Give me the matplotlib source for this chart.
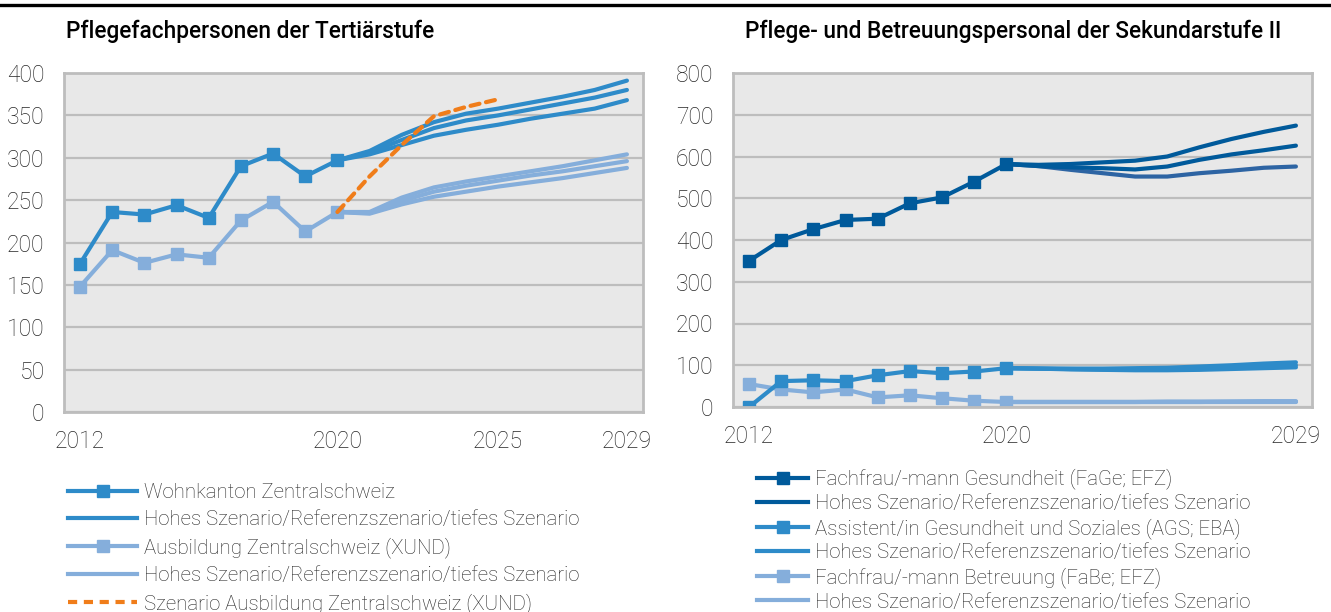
import matplotlib
matplotlib.use("Agg")
import matplotlib.pyplot as plt
from matplotlib.lines import Line2D
import numpy as np

plt.rcParams['font.family'] = ['Roboto', 'DejaVu Sans']

# ---- data ----
years = list(range(2012, 2030))
hist_years = list(range(2012, 2021))
proj_years = list(range(2020, 2030))
xund_years = list(range(2020, 2026))

# Tertiary level
wohnkanton = [175, 236, 233, 244, 229, 290, 305, 278, 297]
wohnkanton_high = [297, 308, 327, 342, 352, 358, 365, 372, 380, 391]
wohnkanton_ref = [297, 306, 321, 335, 344, 350, 357, 364, 371, 380]
wohnkanton_low = [297, 304, 315, 326, 333, 339, 346, 352, 358, 368]

ausbildung = [148, 191, 176, 186, 182, 226, 248, 213, 236]
ausbildung_high = [236, 236, 253, 265, 272, 278, 284, 290, 297, 304]
ausbildung_ref = [236, 235, 249, 260, 267, 273, 279, 284, 290, 296]
ausbildung_low = [236, 234, 245, 254, 260, 266, 271, 276, 282, 288]

xund_scenario = [236, 278, 315, 349, 360, 369]

# Secondary level II
fage = [350, 400, 426, 448, 451, 488, 502, 540, 582]
fage_high = [582, 580, 582, 586, 590, 600, 622, 642, 659, 674]
fage_ref = [582, 577, 574, 572, 569, 576, 592, 605, 615, 626]
fage_low = [582, 577, 568, 560, 552, 552, 560, 566, 573, 576]

ags = [0, 62, 64, 62, 76, 86, 81, 85, 93]
ags_high = [93, 92, 92, 92, 93, 94, 97, 100, 104, 107]
ags_ref = [93, 92, 91, 90, 90, 91, 93, 96, 98, 100]
ags_low = [93, 92, 90, 89, 88, 88, 89, 91, 93, 95]

fabe = [55, 42, 35, 42, 23, 28, 21, 15, 12]
fabe_high = [12, 12, 12, 12, 12, 13, 13, 13, 14, 14]
fabe_ref = [12, 12, 12, 12, 12, 12, 12, 13, 13, 13]
fabe_low = [12, 12, 12, 12, 12, 12, 12, 12, 12, 12]

left_ticks = ['2012', '2020', '2025', '2029']
right_ticks = ['2012', '2020', '2029']

left_title = "Pflegefachpersonen der Tertiärstufe"
right_title = "Pflege- und Betreuungspersonal der Sekundarstufe II"

left_labels = ["Wohnkanton Zentralschweiz",
               "Hohes Szenario/Referenzszenario/tiefes Szenario",
               "Ausbildung Zentralschweiz (XUND)",
               "Hohes Szenario/Referenzszenario/tiefes Szenario",
               "Szenario Ausbildung Zentralschweiz (XUND)"]
right_labels = ["Fachfrau/-mann Gesundheit (FaGe; EFZ)",
                "Hohes Szenario/Referenzszenario/tiefes Szenario",
                "Assistent/in Gesundheit und Soziales (AGS; EBA)",
                "Hohes Szenario/Referenzszenario/tiefes Szenario",
                "Fachfrau/-mann Betreuung (FaBe; EFZ)",
                "Hohes Szenario/Referenzszenario/tiefes Szenario"]

# ---- styling ----
C_MID = '#2E8BC9'
C_LIGHT = '#85AEDB'
C_ORANGE = '#F07D1A'
C_DARK = '#005A9B'
C_DARK_LOW = '#2D64A3'
BG = '#E8E8E8'
GRID = '#BDBDBD'
TXT = '#262626'

W, H = 1331, 612
fig = plt.figure(figsize=(W / 100, H / 100), dpi=100)


def frac_box(x0, y0, x1, y1):
    return [x0 / W, 1 - y1 / H, (x1 - x0) / W, (y1 - y0) / H]


def idx(yrs):
    return [years.index(y) for y in yrs]


def style_axes(ax, ymax, ystep, tick_years):
    ax.set_facecolor(BG)
    ax.set_xlim(-0.5, len(years) - 0.5)
    ax.set_ylim(0, ymax)
    ax.set_yticks(np.arange(0, ymax + 1, ystep))
    ax.set_xticks(idx([int(t) for t in tick_years]))
    ax.set_xticklabels(tick_years)
    ax.grid(axis='y', color=GRID, linewidth=1.6)
    ax.set_axisbelow(True)
    for s in ax.spines.values():
        s.set_color(GRID)
        s.set_linewidth(2.0)
    ax.tick_params(axis='both', length=0, labelsize=16.5, labelcolor=TXT)
    ax.tick_params(axis='y', pad=14)
    ax.tick_params(axis='x', pad=13)
    for lab in ax.get_xticklabels() + ax.get_yticklabels():
        lab.set_fontweight('light')


LW = 3.0
MS = 9
DASH = (0, (2.2, 1.6))

# ---- left panel ----
axL = fig.add_axes(frac_box(64, 73, 643, 412))
style_axes(axL, 400, 50, left_ticks)
for series in (ausbildung_low, ausbildung_ref, ausbildung_high):
    axL.plot(idx(proj_years), series, color=C_LIGHT, lw=LW, solid_capstyle='round')
axL.plot(idx(hist_years), ausbildung, color=C_LIGHT, lw=LW, marker='s', ms=MS)
for series in (wohnkanton_low, wohnkanton_ref, wohnkanton_high):
    axL.plot(idx(proj_years), series, color=C_MID, lw=LW, solid_capstyle='round')
axL.plot(idx(hist_years), wohnkanton, color=C_MID, lw=LW, marker='s', ms=MS)
axL.plot(idx(xund_years), xund_scenario, color=C_ORANGE, lw=LW,
         ls=DASH, dash_capstyle='round')

# ---- right panel ----
axR = fig.add_axes(frac_box(733, 73, 1312, 407))
style_axes(axR, 800, 100, right_ticks)
for series, col in ((fage_low, C_DARK_LOW), (fage_ref, C_DARK), (fage_high, C_DARK)):
    axR.plot(idx(proj_years), series, color=col, lw=LW, solid_capstyle='round')
axR.plot(idx(hist_years), fage, color=C_DARK, lw=LW, marker='s', ms=MS)
for series in (fabe_low, fabe_ref, fabe_high):
    axR.plot(idx(proj_years), series, color=C_LIGHT, lw=LW, solid_capstyle='round')
axR.plot(idx(hist_years), fabe, color=C_LIGHT, lw=LW, marker='s', ms=MS)
for series in (ags_low, ags_ref, ags_high):
    axR.plot(idx(proj_years), series, color=C_MID, lw=LW, solid_capstyle='round')
axR.plot(idx(hist_years), ags, color=C_MID, lw=LW, marker='s', ms=MS)

# ---- titles and top rule ----
fig.add_artist(Line2D([0, 1], [1 - 4.5 / H, 1 - 4.5 / H], color='black', lw=2.4))
fig.text(66 / W, 1 - 31 / H, left_title, fontsize=16.3, fontweight='medium',
         color='black', va='center', ha='left')
fig.text(745 / W, 1 - 31 / H, right_title, fontsize=16.3, fontweight='medium',
         color='black', va='center', ha='left')

# ---- legends ----
def handle(color, marker=None, ls='-'):
    return Line2D([], [], color=color, lw=LW, marker=marker, ms=MS - 1, ls=ls)


LEG_FS = 14.7
hL = [handle(C_MID, 's'), handle(C_MID), handle(C_LIGHT, 's'), handle(C_LIGHT),
      handle(C_ORANGE, ls=DASH)]
legL = fig.legend(hL, left_labels, loc='upper left', bbox_to_anchor=(68 / W, 1 - 483.5 / H),
                  frameon=False, fontsize=LEG_FS, handlelength=3.4, handletextpad=0.3,
                  labelspacing=0.39, borderpad=0, borderaxespad=0)
hR = [handle(C_DARK, 's'), handle(C_DARK), handle(C_MID, 's'), handle(C_MID),
      handle(C_LIGHT, 's'), handle(C_LIGHT)]
legR = fig.legend(hR, right_labels, loc='upper left', bbox_to_anchor=(757 / W, 1 - 468.5 / H),
                  frameon=False, fontsize=LEG_FS, handlelength=2.5, handletextpad=0.35,
                  labelspacing=0.23, borderpad=0, borderaxespad=0)
for leg in (legL, legR):
    for t in leg.get_texts():
        t.set_color(TXT)
        t.set_fontweight('light')

fig.savefig('out.png', dpi=100)
